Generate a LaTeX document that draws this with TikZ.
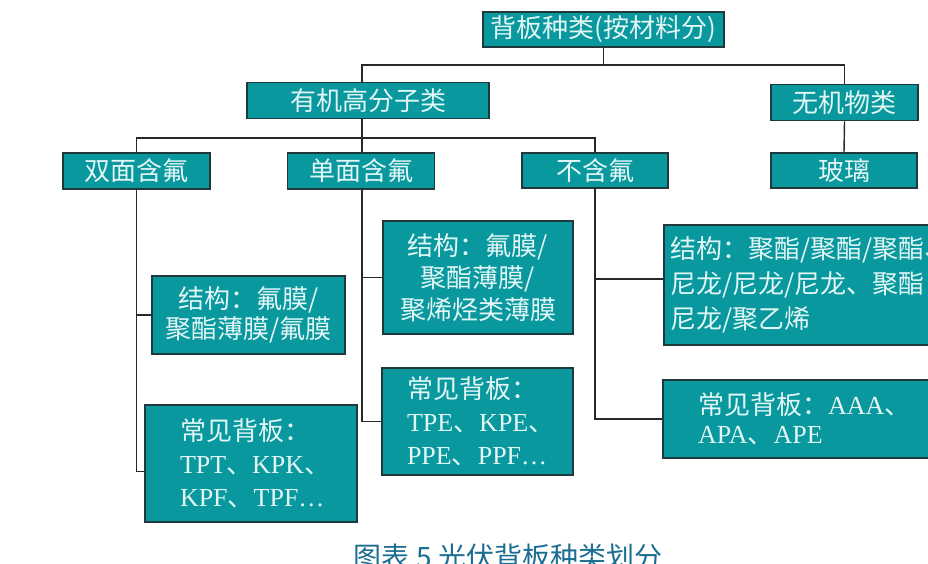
\documentclass[tikz,border=0pt]{standalone}
\usepackage{fontspec}
\setmainfont{Noto Sans CJK SC}
\newfontfamily\lat{Liberation Serif}
\definecolor{boxfill}{RGB}{8,152,158}
\definecolor{boxline}{RGB}{32,56,60}
\definecolor{boxtext}{RGB}{226,246,246}
\definecolor{lineclr}{RGB}{40,40,40}
\definecolor{capclr}{RGB}{27,110,145}
\begin{document}
\begin{tikzpicture}[x=1pt,y=-1pt,
  box/.style={draw=boxline, line width=1.6pt, fill=boxfill, text=boxtext,
    inner sep=0pt, font=\fontsize{26}{32}\selectfont},
  conn/.style={draw=lineclr, line width=1.4pt}]
\useasboundingbox (0,0) rectangle (928,563);
\clip (0,0) rectangle (928,563);
\fill[white] (0,0) rectangle (928,563);

\coordinate (bus1) at (0,65);
\coordinate (bus2) at (0,138);
\coordinate (orgx) at (362,0);

% level 0 and 1
\node[box, minimum width=241pt, minimum height=35pt] (root) at (603.5,29.5) {背板种类(按材料分)};
\node[box, minimum width=242pt, minimum height=36pt] (org) at (368,100.5) {有机高分子类};
\node[box, minimum width=147pt, minimum height=36pt] (inorg) at (844.5,102.5) {无机物类};

% level 2
\node[box, minimum width=147pt, minimum height=36pt] (dbl) at (136.5,171) {双面含氟};
\node[box, minimum width=147pt, minimum height=36pt] (sgl) at (361,171) {单面含氟};
\node[box, minimum width=146pt, minimum height=35pt] (non) at (595,170.5) {不含氟};
\node[box, minimum width=146pt, minimum height=35pt] (glass) at (844,170.5) {玻璃};

% structure boxes
\node[box, align=center, font=\fontsize{26}{30}\selectfont,
  minimum width=193pt, minimum height=78pt] (sstr) at (248.5,315)
  {结构：氟膜/\\聚酯薄膜/氟膜};
\node[box, align=center, font=\fontsize{26}{32}\selectfont,
  minimum width=190pt, minimum height=113pt] (dstr) at (478,277.5)
  {结构：氟膜/\\聚酯薄膜/\\聚烯烃类薄膜};
\node[box, align=left, font=\fontsize{26}{35}\selectfont,
  inner xsep=6pt, text width=274pt, minimum height=120pt] (nstr) at (807,285)
  {结构：聚酯/聚酯/聚酯、\\尼龙/尼龙/尼龙、聚酯\\尼龙/聚乙烯};

% common backsheet boxes
\node[box, align=left, font=\fontsize{26}{33}\selectfont,
  inner xsep=35pt, text width=142pt, minimum height=117pt] (scom) at (251,463.5)
  {常见背板：\\{\lat TPT}、{\lat KPK}、\\{\lat KPF}、{\lat TPF…}};
\node[box, align=left, font=\fontsize{26}{33}\selectfont,
  inner xsep=25pt, text width=141pt, minimum height=107pt] (dcom) at (477.5,421.5)
  {常见背板：\\{\lat TPE}、{\lat KPE}、\\{\lat PPE}、{\lat PPF…}};
\node[box, align=left, font=\fontsize{26}{29}\selectfont,
  inner xsep=35pt, text width=217pt, minimum height=78pt] (ncom) at (806.5,419)
  {常见背板：{\lat AAA}、\\{\lat APA}、{\lat APE}};

% caption
\node[font=\fontsize{28}{28}\selectfont, text=capclr, anchor=base, inner sep=0pt]
  (cap) at (508,567) {图表 5 光伏背板种类划分};

% connectors
\draw[conn] (root.south) -- (root.south |- bus1);
\draw[conn] (orgx |- org.north) |- (bus1 -| inorg.north) -- (inorg.north);
\draw[conn] (inorg.south) -- (glass.north);
\draw[conn] (orgx |- org.south) -- (orgx |- sgl.north);
\draw[conn] (dbl.north) -- (dbl.north |- bus2) -- (non.north |- bus2) -- (non.north);
\draw[conn] (dbl.south) |- (sstr.west);
\draw[conn] (dbl.south) |- ([yshift=-8pt]scom.west);
\draw[conn] (orgx |- sgl.south) |- (dstr.west);
\draw[conn] (orgx |- sgl.south) |- (dcom.west);
\draw[conn] (non.south) |- ([yshift=6pt]nstr.west);
\draw[conn] (non.south) |- (ncom.west);
\end{tikzpicture}
\end{document}
